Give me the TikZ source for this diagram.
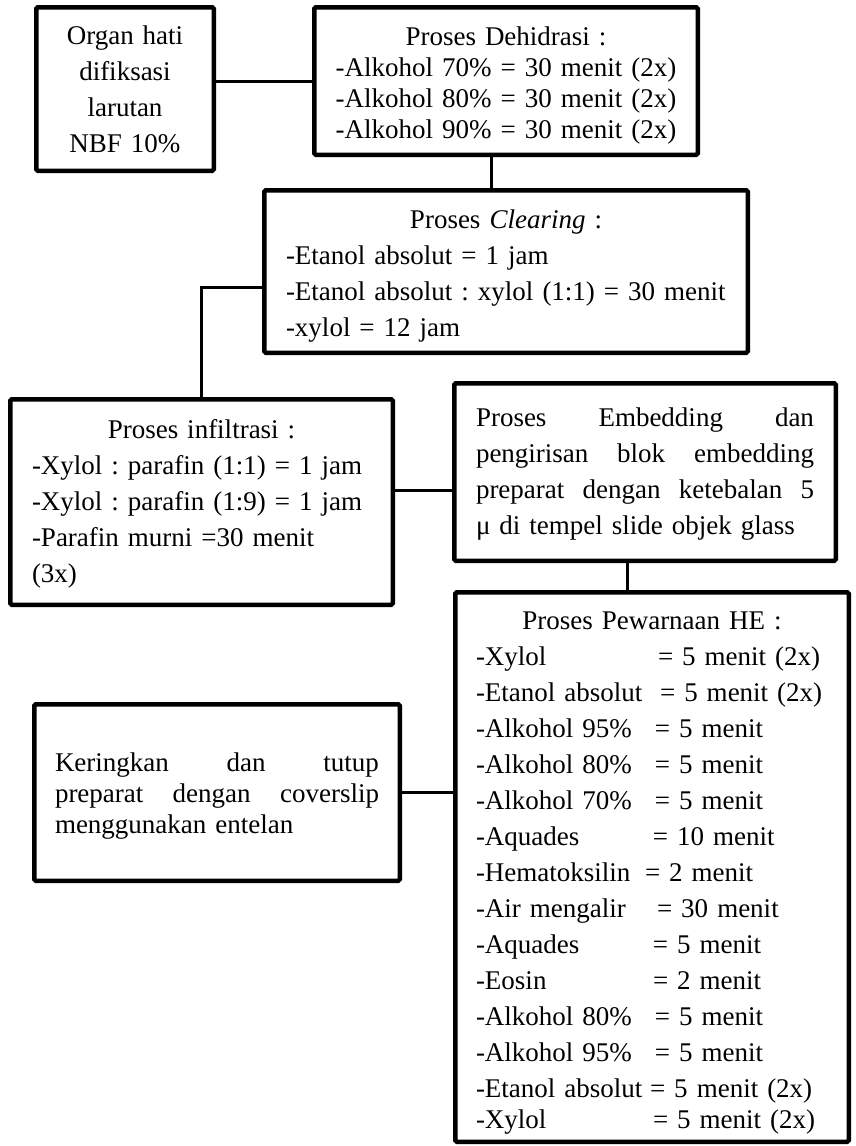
\documentclass[tikz,border=0pt]{standalone}
\usepackage{fontspec}
\setmainfont{Liberation Serif}
% one unbreakable line: left-aligned, centred, or stretched to the full width
\newcommand\lline[1]{\makebox[\linewidth][l]{#1}}
\newcommand\ctrline[1]{\makebox[\linewidth][c]{#1}}
\newcommand\fullline[1]{\makebox[\linewidth][s]{\spaceskip=.3333em plus 1fil\relax #1}}
\newcommand\step[2]{\makebox[#1][l]{#2}}
% strut that lowers a text block inside its box
\newcommand\topstrut[1]{\rule{0pt}{#1}}
\begin{document}
\frenchspacing
\begin{tikzpicture}[x=1pt,y=-1pt,
  box/.style={draw, line width=4.5pt, rounded corners=1.5pt, inner sep=0pt,
    align=left, font=\fontsize{27}{36}\selectfont\frenchspacing},
  link/.style={line width=3pt}]
\useasboundingbox (0,0) rectangle (855,1146);

% fixation
\node[box, minimum width=177.5pt, minimum height=163.5pt, text width=170pt, align=center]
  (fix) at (125,89) {\topstrut{20pt}Organ hati\\difiksasi\\larutan\\NBF 10\%};

% dehydration
\node[box, minimum width=383.5pt, minimum height=147.5pt, text width=370pt,
  font=\fontsize{27}{31}\selectfont\frenchspacing]
  (dehid) at (506,81) {\ctrline{\topstrut{27pt}Proses Dehidrasi :}\\\ctrline{-Alkohol 70\% = 30 menit (2x)}\\\ctrline{-Alkohol 80\% = 30 menit (2x)}\\\ctrline{-Alkohol 90\% = 30 menit (2x)}};

% clearing
\node[box, minimum width=483.5pt, minimum height=162.5pt, text width=440pt]
  (clear) at (506,271.5) {\ctrline{\topstrut{27pt}Proses \textit{Clearing} :}\\\lline{-Etanol absolut = 1 jam}\\\lline{-Etanol absolut : xylol (1:1) = 30 menit}\\\lline{-xylol = 12 jam}};

% infiltration
\node[box, minimum width=382.5pt, minimum height=205.5pt, text width=339pt]
  (infil) at (201.5,502) {\ctrline{\topstrut{22pt}Proses infiltrasi :}\\\lline{-Xylol : parafin (1:1) = 1 jam}\\\lline{-Xylol : parafin (1:9) = 1 jam}\\\lline{-Parafin murni =30 menit}\\\lline{(3x)}};

% embedding
\node[box, minimum width=381.5pt, minimum height=177.5pt, text width=338pt]
  (embed) at (645,472) {\fullline{\topstrut{23pt}Proses Embedding dan}\\\fullline{pengirisan blok embedding}\\\fullline{preparat dengan ketebalan 5}\\\lline{μ di tempel slide objek glass}};

% staining
\node[box, minimum width=393.5pt, minimum height=549.5pt, text width=352pt]
  (stain) at (652,867) {\ctrline{\topstrut{29pt}Proses Pewarnaan HE :}\\
  \lline{\step{182pt}{-Xylol}= 5 menit (2x)}\\
  \lline{\step{184pt}{-Etanol absolut}= 5 menit (2x)}\\
  \lline{\step{179pt}{-Alkohol 95\%}= 5 menit}\\
  \lline{\step{179pt}{-Alkohol 80\%}= 5 menit}\\
  \lline{\step{179pt}{-Alkohol 70\%}= 5 menit}\\
  \lline{\step{177pt}{-Aquades}= 10 menit}\\
  \lline{\step{169pt}{-Hematoksilin}= 2 menit}\\
  \lline{\step{181pt}{-Air mengalir}= 30 menit}\\
  \lline{\step{177pt}{-Aquades}= 5 menit}\\
  \lline{\step{177pt}{-Eosin}= 2 menit}\\
  \lline{\step{179pt}{-Alkohol 80\%}= 5 menit}\\
  \lline{\step{179pt}{-Alkohol 95\%}= 5 menit}\\
  \lline{\step{174pt}{-Etanol absolut}= 5 menit (2x)}\\[-5pt]
  \lline{\step{177pt}{-Xylol}= 5 menit (2x)}};

% drying and mounting
\node[box, minimum width=365.5pt, minimum height=176.5pt, text width=324pt,
  font=\fontsize{27}{31}\selectfont\frenchspacing]
  (mount) at (217,792.5) {\fullline{\topstrut{26pt}Keringkan dan tutup}\\\fullline{preparat dengan coverslip}\\\lline{menggunakan entelan}};

% connectors
\draw[link] (dehid.west) -- (dehid.west -| fix.east);
\draw[link] ([xshift=-15pt]dehid.south) -- ([xshift=-15pt]dehid.south |- clear.north);
\draw[link] ([yshift=-15.5pt]clear.west) -| (infil.north);
\draw[link] ([yshift=12pt]infil.east) -- ([yshift=12pt]infil.east -| embed.west);
\draw[link] ([xshift=-18pt]embed.south) -- ([xshift=-18pt]embed.south |- stain.north);
\draw[link] (mount.east) -- (mount.east -| stain.west);
\end{tikzpicture}
\end{document}
